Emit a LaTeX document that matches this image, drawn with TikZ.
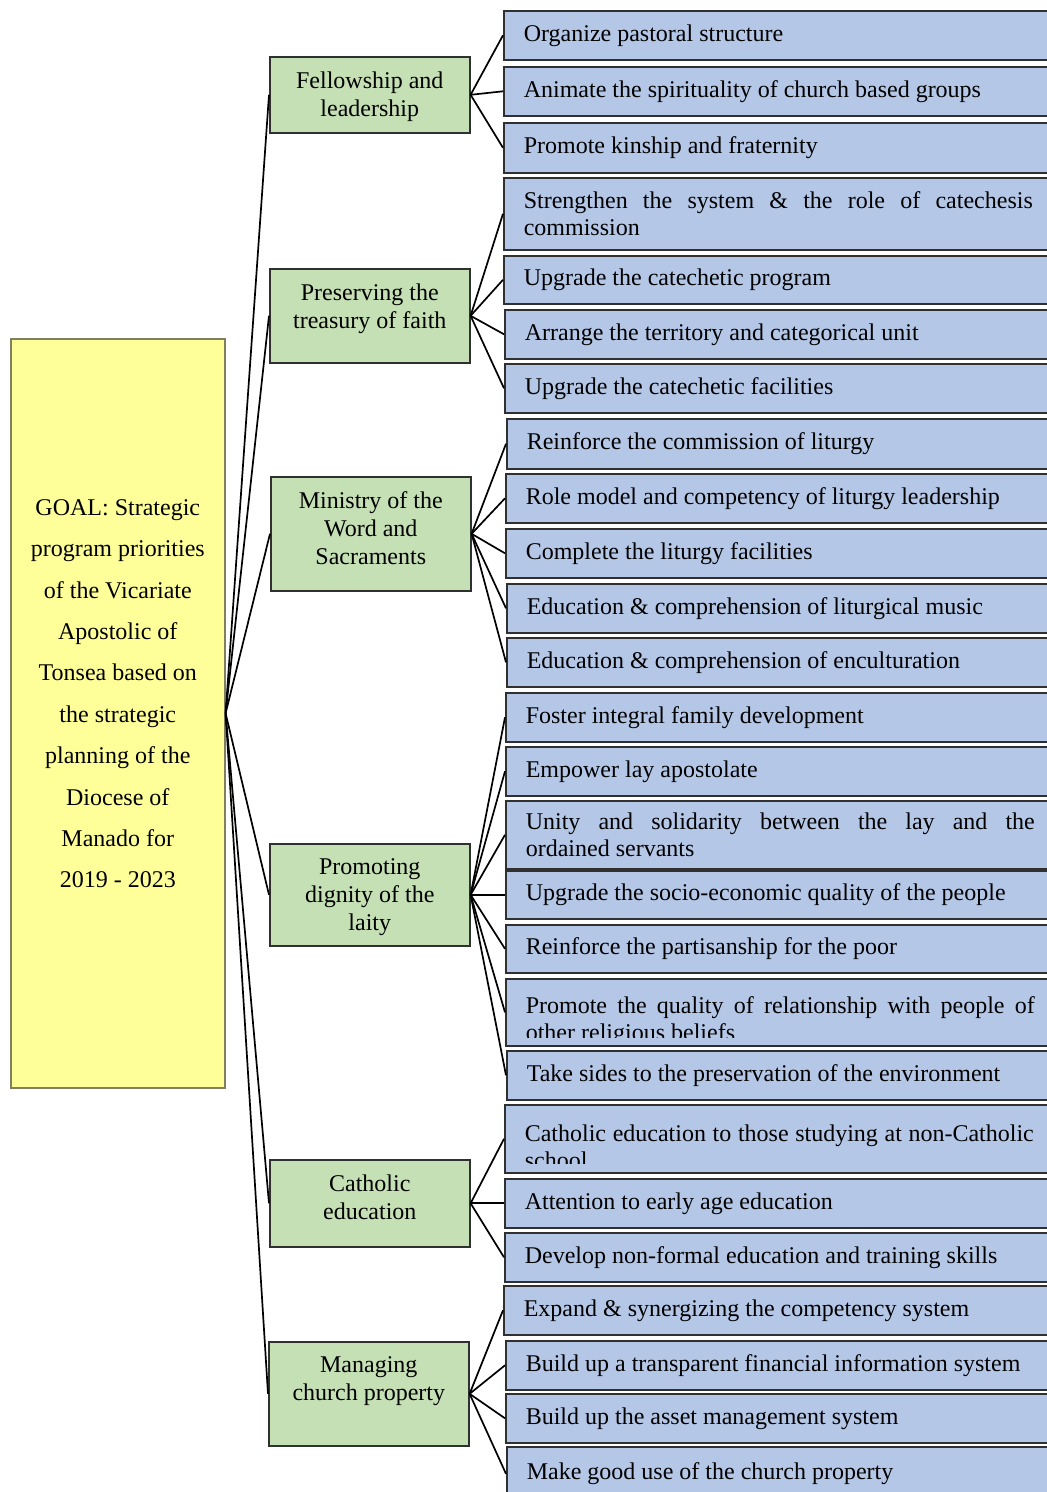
\documentclass[tikz,border=0pt]{standalone}
\usepackage{fontspec}
\setmainfont{Liberation Serif}
\usepackage{tikz}
\definecolor{goalfill}{HTML}{FFFF99}
\definecolor{goalline}{HTML}{808060}
\definecolor{greenfill}{HTML}{C5E0B4}
\definecolor{bluefill}{HTML}{B4C7E7}
\definecolor{boxline}{HTML}{303030}

\begin{document}
\begin{tikzpicture}[x=0.5pt,y=-0.5pt,
  goalbox/.style={draw=goalline,fill=goalfill,line width=0.8pt,anchor=north west,
    minimum width=107pt,minimum height=374.5pt,inner sep=0pt},
  goaltext/.style={anchor=north,inner sep=0pt,align=center,font=\fontsize{12}{20.7}\selectfont},
  greenbox/.style={draw=boxline,fill=greenfill,line width=0.8pt,anchor=north west,
    minimum width=100pt,minimum height=#1,inner sep=0pt},
  greentext/.style={anchor=north,inner sep=0pt,align=center,font=\fontsize{12}{14}\selectfont},
  bluebox/.style={draw=boxline,fill=bluefill,line width=0.8pt,anchor=north west,
    minimum height=#1,text width=254.5pt,inner xsep=10pt,inner ysep=2pt,
    align=justify,font=\fontsize{12}{13.8}\selectfont},
  bluebox/.default=24.5pt,
  link/.style={line width=0.85pt}]
\clip (0,0) rectangle (1047,1492);

% goal
\node[goalbox] (goal) at (10,338) {};
\node[goaltext] (goaltxt) at ([yshift=-80.5pt]goal.north) {GOAL: Strategic\\program priorities\\of the Vicariate\\Apostolic of\\Tonsea based on\\the strategic\\planning of the\\Diocese of\\Manado for\\2019 - 2023};

% priorities
\node[greenbox=38pt] (g1) at (269,56) {};
\node[greentext] (g1t) at ([yshift=-7.5pt]g1.north) {Fellowship and\\leadership};
\node[greenbox=47pt] (g2) at (269,268) {};
\node[greentext] (g2t) at ([yshift=-7.5pt]g2.north) {Preserving the\\treasury of faith};
\node[greenbox=57pt] (g3) at (270,476) {};
\node[greentext] (g3t) at ([yshift=-7.5pt]g3.north) {Ministry of the\\Word and\\Sacraments};
\node[greenbox=51pt] (g4) at (269,843) {};
\node[greentext] (g4t) at ([yshift=-7.5pt]g4.north) {Promoting\\dignity of the\\laity};
\node[greenbox=43.5pt] (g5) at (269,1159) {};
\node[greentext] (g5t) at ([yshift=-7.5pt]g5.north) {Catholic\\education};
\node[greenbox=52pt] (g6) at (268,1341) {};
\node[greentext] (g6t) at ([yshift=-7.5pt]g6.north) {Managing\\church property};

% programs
\node[bluebox] (b1) at (503,10) {Organize pastoral structure};
\node[bluebox] (b2) at (503,66) {Animate the spirituality of church based groups};
\node[bluebox=25pt] (b3) at (503,122) {Promote kinship and fraternity};
\node[bluebox=36pt] (b4) at (503,177) {Strengthen the system \& the role of catechesis\linebreak commission};
\node[bluebox=24pt] (b5) at (503,255) {Upgrade the catechetic program};
\node[bluebox] (b6) at (504,309) {Arrange the territory and categorical unit};
\node[bluebox] (b7) at (504,363) {Upgrade the catechetic facilities};
\node[bluebox=25pt] (b8) at (506,418) {Reinforce the commission of liturgy};
\node[bluebox] (b9) at (505,473) {Role model and competency of liturgy leadership};
\node[bluebox] (b10) at (505,528) {Complete the liturgy facilities};
\node[bluebox] (b11) at (506,583) {Education \& comprehension of liturgical music};
\node[bluebox] (b12) at (506,637) {Education \& comprehension of enculturation};
\node[bluebox] (b13) at (505,692) {Foster integral family development};
\node[bluebox] (b14) at (505,746) {Empower lay apostolate};
\node[bluebox=34pt] (b15) at (505,800) {Unity and solidarity between the lay and the\linebreak ordained servants};
\node[bluebox=24pt] (b16) at (505,870) {Upgrade the socio-economic quality of the people};
\node[bluebox=24pt] (b17) at (505,924) {Reinforce the partisanship for the poor};
\node[bluebox=33.5pt] (b18) at (505,978) {};
\begin{scope}
  \clip (b18.north west) rectangle ([yshift=4.5pt]b18.south east);
  \node[bluebox=33.5pt,draw=none,fill=none,yshift=-4.5pt] (b18t) at (505,978) {Promote the quality of relationship with people of\linebreak other religious beliefs};
\end{scope}
\node[bluebox] (b19) at (506,1050) {Take sides to the preservation of the environment};
\node[bluebox=34pt] (b20) at (504,1104) {};
\begin{scope}
  \clip (b20.north west) rectangle ([yshift=5pt]b20.south east);
  \node[bluebox=34pt,draw=none,fill=none,yshift=-4pt] (b20t) at (504,1104) {Catholic education to those studying at non-Catholic\linebreak school};
\end{scope}
\node[bluebox] (b21) at (504,1178) {Attention to early age education};
\node[bluebox] (b22) at (504,1232) {Develop non-formal education and training skills};
\node[bluebox] (b23) at (503,1285) {Expand \& synergizing the competency system};
\node[bluebox] (b24) at (505,1340) {Build up a transparent financial information system};
\node[bluebox] (b25) at (505,1393) {Build up the asset management system};
\node[bluebox=27pt] (b26) at (506,1446) {Make good use of the church property};

% connectors
\foreach \g in {1,...,6}
  \draw[link] (goal.east) -- (g\g.west);
\foreach \b in {1,2,3}
  \draw[link] (g1.east) -- (b\b.west);
\foreach \b in {4,...,7}
  \draw[link] (g2.east) -- (b\b.west);
\foreach \b in {8,...,12}
  \draw[link] (g3.east) -- (b\b.west);
\foreach \b in {13,...,19}
  \draw[link] (g4.east) -- (b\b.west);
\foreach \b in {20,21,22}
  \draw[link] (g5.east) -- (b\b.west);
\foreach \b in {23,...,26}
  \draw[link] (g6.east) -- (b\b.west);
\end{tikzpicture}
\end{document}
